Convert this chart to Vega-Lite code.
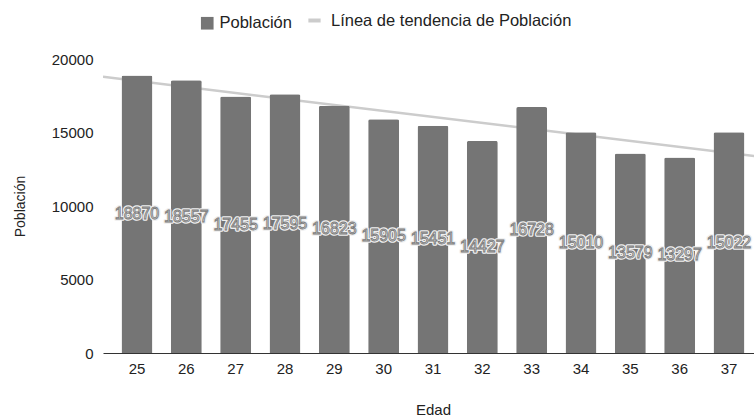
{
  "$schema": "https://vega.github.io/schema/vega-lite/v6.json",
  "autosize": {"type": "none"},
  "padding": {"left": 103, "top": 59, "right": 0, "bottom": 65},
  "width": 660,
  "height": 294,
  "background": "#ffffff",
  "config": {
    "font": "Liberation Sans",
    "view": {"stroke": null},
    "axis": {"labelFont": "Liberation Sans", "titleFont": "Liberation Sans", "labelColor": "#222222", "titleColor": "#222222", "titleFontWeight": "normal"},
    "legend": {"labelFont": "Liberation Sans", "labelColor": "#222222", "labelFontSize": 16.5, "labelLimit": 400}
  },
  "data": {
    "values": [
      {"Edad": 25, "Población": 18870},
      {"Edad": 26, "Población": 18557},
      {"Edad": 27, "Población": 17455},
      {"Edad": 28, "Población": 17595},
      {"Edad": 29, "Población": 16823},
      {"Edad": 30, "Población": 15905},
      {"Edad": 31, "Población": 15451},
      {"Edad": 32, "Población": 14427},
      {"Edad": 33, "Población": 16728},
      {"Edad": 34, "Población": 15010},
      {"Edad": 35, "Población": 13579},
      {"Edad": 36, "Población": 13297},
      {"Edad": 37, "Población": 15022}
    ]
  },
  "resolve": {"scale": {"x": "independent", "y": "independent"}},
  "layer": [
    {
      "transform": [{"regression": "Población", "on": "Edad", "extent": [24.311, 37.689]}],
      "mark": {"type": "line", "strokeWidth": 2.5, "clip": true},
      "encoding": {
        "x": {"field": "Edad", "type": "quantitative", "scale": {"domain": [24.311, 37.689], "nice": false, "zero": false}, "axis": null},
        "y": {"field": "Población", "type": "quantitative", "scale": {"domain": [0, 20000], "nice": false}, "axis": null},
        "stroke": {
          "datum": "Línea de tendencia de Población",
          "scale": {"range": ["#cccccc"]},
          "legend": {"orient": "none", "legendX": 203, "legendY": -47, "title": null, "symbolType": "stroke", "symbolStrokeWidth": 4, "symbolSize": 150, "labelOffset": 8}
        }
      }
    },
    {
      "mark": {"type": "bar", "cornerRadiusTopLeft": 2, "cornerRadiusTopRight": 2},
      "encoding": {
        "x": {
          "field": "Edad", "type": "ordinal",
          "scale": {"type": "band", "paddingInner": 0.372, "paddingOuter": 0.375},
          "axis": {"title": "Edad", "labelAngle": 0, "labelFontSize": 15, "titleFontSize": 15, "ticks": false, "domainColor": "#333333", "domainWidth": 1, "labelPadding": 8, "titlePadding": 26}
        },
        "y": {
          "field": "Población", "type": "quantitative",
          "scale": {"domain": [0, 20000], "nice": false},
          "axis": {"title": "Población", "format": "d", "values": [0, 5000, 10000, 15000, 20000], "labelFontSize": 15, "titleFontSize": 14, "ticks": false, "domain": false, "gridColor": "#dddddd", "labelPadding": 10, "titlePadding": 24}
        },
        "fill": {
          "datum": "Población",
          "scale": {"range": ["#757575"]},
          "legend": {"orient": "none", "legendX": 96, "legendY": -44, "title": null, "symbolType": "square", "symbolSize": 160, "labelOffset": 4}
        }
      }
    },
    {
      "encoding": {
        "x": {"field": "Edad", "type": "ordinal", "scale": {"type": "band", "paddingInner": 0.372, "paddingOuter": 0.375}, "axis": null},
        "y": {"field": "Población", "type": "quantitative", "scale": {"domain": [0, 40000], "nice": false}, "axis": null},
        "text": {"field": "Población", "type": "quantitative", "format": "d"}
      },
      "layer": [
        {"mark": {"type": "text", "fontSize": 16, "fill": "#eeeeee", "stroke": "#eeeeee", "strokeWidth": 3.5, "strokeJoin": "round", "baseline": "middle"}},
        {"mark": {"type": "text", "fontSize": 16, "fill": "#ffffff", "stroke": "#7a7a7a", "strokeWidth": 0.9, "baseline": "middle"}}
      ]
    }
  ]
}
